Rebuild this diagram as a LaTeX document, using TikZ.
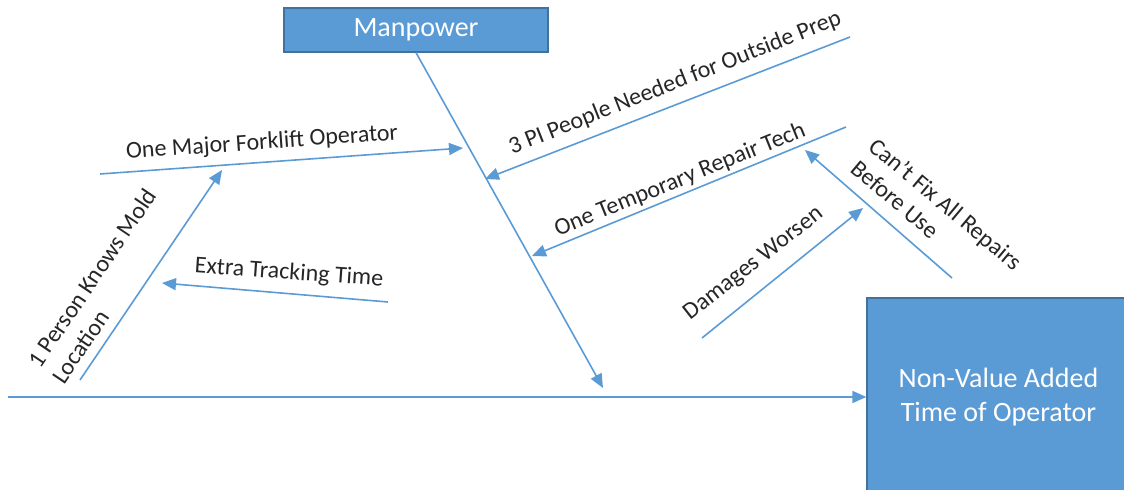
\documentclass[tikz,border=0pt]{standalone}
\usepackage{fontspec}
\setmainfont{Carlito}
\usetikzlibrary{arrows.meta}

\definecolor{boneblue}{HTML}{5B9BD5}
\definecolor{boxedge}{HTML}{41719C}
\definecolor{labeltext}{HTML}{262626}

\tikzset{
  bone/.style={draw=boneblue, line width=0.8pt, -{Triangle[length=7pt,width=6pt]}},
  headbox/.style={draw=boxedge, fill=boneblue, text=white, line width=0.6pt,
    font=\fontsize{14}{17}\selectfont},
  cause/.style={text=labeltext, inner sep=0pt, font=\fontsize{12}{14.5}\selectfont}
}

\begin{document}
\begin{tikzpicture}[x=0.5pt, y=-0.5pt]
\useasboundingbox (0,0) rectangle (1124,490);
%category and effect boxes
\node[headbox, minimum width=132pt, minimum height=22pt] (manpower) at (416,30) {Manpower};
\node[headbox, minimum width=131.5pt, minimum height=99pt, align=center] (effect) at (998.5,397) {Non-Value Added\\Time of Operator};
%spine and main bone
\coordinate (tail) at (8,397);
\coordinate (bonetip) at (603,388);
\draw[bone] (tail) -- (effect.west);
\draw[bone] (manpower.south) -- (bonetip);
%ends of the cause lines
\coordinate (fork0) at (100,174);
\coordinate (fork1) at (463,148);
\coordinate (mold0) at (80,380);
\coordinate (mold1) at (222,170);
\coordinate (track0) at (388,302);
\coordinate (track1) at (162,283);
\coordinate (prep0) at (850,37);
\coordinate (prep1) at (485,179);
\coordinate (tech0) at (846,127);
\coordinate (tech1) at (532,256);
\coordinate (fix0) at (952,278);
\coordinate (fix1) at (805,150);
\coordinate (worse0) at (702,338);
\coordinate (worse1) at (863,208);
%draw cause lines
\draw[bone] (fork0) -- (fork1);
\draw[bone] (mold0) -- (mold1);
\draw[bone] (track0) -- (track1);
\draw[bone] (prep0) -- (prep1);
\draw[bone] (tech0) -- (tech1);
\draw[bone] (fix0) -- (fix1);
\draw[bone] (worse0) -- (worse1);
%labels
\node[cause, rotate=4] (forklabel) at (262,143) {One Major Forklift Operator};
\node[cause, rotate=56, align=left] (moldlabel) at (104,286) {1 Person Knows Mold\\Location};
\node[cause, rotate=-4] (tracklabel) at (289,273) {Extra Tracking Time};
\node[cause, rotate=21.6] (preplabel) at (675,83) {3 PI People Needed for Outside Prep};
\node[cause, rotate=22] (techlabel) at (680,180) {One Temporary Repair Tech};
\node[cause, rotate=-40, align=left] (fixlabel) at (937,215) {Can't Fix All Repairs\\Before Use};
\node[cause, rotate=38] (worselabel) at (754,264) {Damages Worsen};
\end{tikzpicture}
\end{document}
